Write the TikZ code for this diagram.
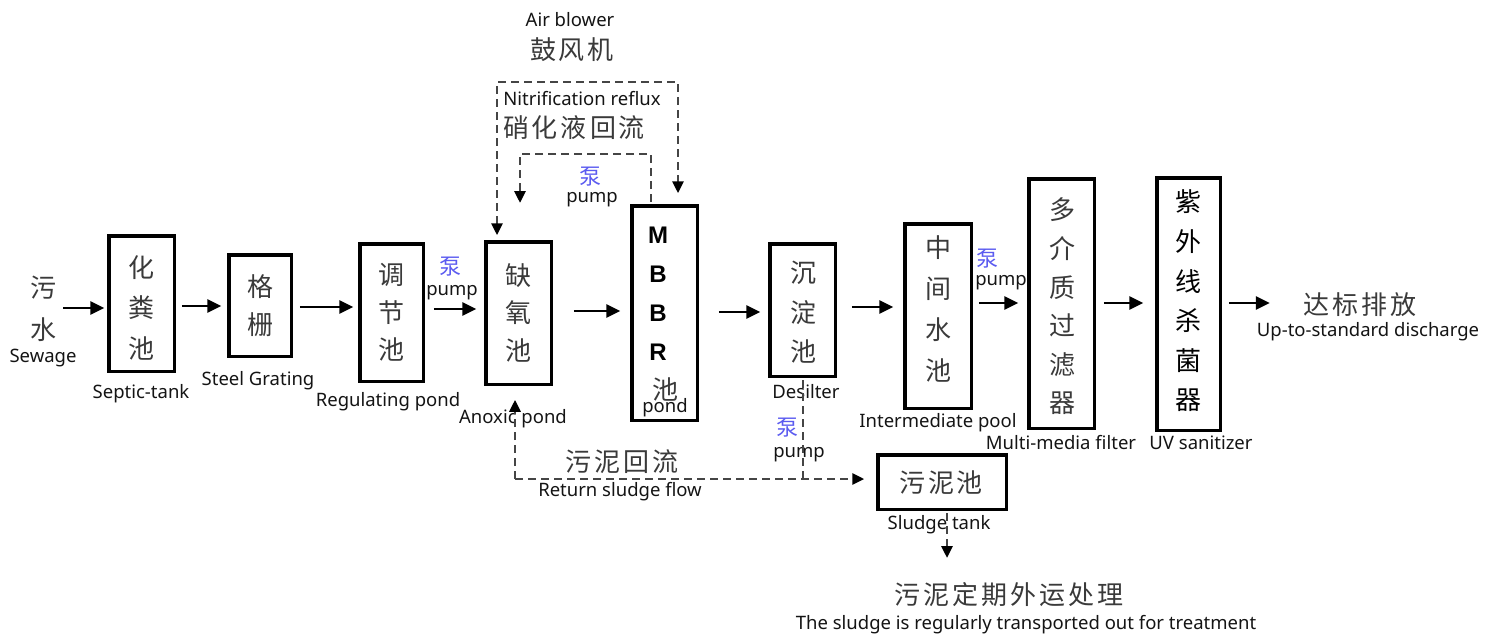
\documentclass[tikz,border=0pt]{standalone}
\usepackage{fontspec}
\setmainfont{Noto Sans}
\newfontfamily\cjk{Noto Sans CJK SC}
\newfontfamily\mbbrfont{Liberation Sans}
\usetikzlibrary{arrows.meta}
\definecolor{cjkgray}{HTML}{3A3A3A}
\definecolor{pumpblue}{HTML}{5B5BF0}
\definecolor{dashgray}{HTML}{454545}
\definecolor{entext}{HTML}{141414}
\newcommand{\zsp}{\hspace{3pt}}
\begin{document}
\begin{tikzpicture}[x=1pt,y=-1pt,
 box/.style={draw=black,line width=3.5pt,inner sep=0pt},
 vtext/.style={align=center,text=cjkgray,inner sep=0pt,font=\cjk\fontsize{26}{#1}\selectfont},
 en/.style={font=\fontsize{18.5}{20}\selectfont,text=entext,inner sep=1pt},
 zh/.style={font=\cjk\fontsize{26}{28}\selectfont,text=cjkgray,inner sep=1pt},
 pumpzh/.style={font=\cjk\fontsize{22}{24}\selectfont,text=pumpblue,inner sep=1pt},
 flow/.style={line width=2.9pt,-{Triangle[length=14pt,width=13pt]}},
 dline/.style={line width=2.9pt,draw=dashgray,dash pattern=on 8pt off 5pt},
 dtip/.style={-{Triangle[length=12pt,width=11pt,color=black]}},
]
\useasboundingbox (0,0) rectangle (1487,637);

% boxes
\node[box,minimum width=65.5pt,minimum height=135.5pt] (b1) at (141.5,303.5) {};
\node[box,minimum width=62.5pt,minimum height=101.5pt] (b2) at (260,305.5) {};
\node[box,minimum width=63.5pt,minimum height=137.5pt] (b3) at (391.5,312.5) {};
\node[box,minimum width=65.5pt,minimum height=142.5pt] (b4) at (518.5,313) {};
\node[box,minimum width=65.5pt,minimum height=214.5pt] (b5) at (664.5,313) {};
\node[box,minimum width=65.5pt,minimum height=132.5pt] (b6) at (802.5,310) {};
\node[box,minimum width=66.5pt,minimum height=184.5pt] (b7) at (938,316) {};
\node[box,minimum width=65.5pt,minimum height=249.5pt] (b8) at (1061.5,303.5) {};
\node[box,minimum width=63.5pt,minimum height=252.5pt] (b9) at (1188.5,304) {};
\node[box,minimum width=128.5pt,minimum height=54.5pt] (b10) at (942,482) {};

% box texts
\node[vtext=42] (n0) at (43,309) {污\\水};
\node[vtext=40.5] (t1) at (141.5,307.5) {化\\粪\\池};
\node[vtext=38] (t2) at (260,306) {格\\栅};
\node[vtext=37.5] (t3) at (391.5,312.5) {调\\节\\池};
\node[vtext=37.5] (t4) at (518,312.5) {缺\\氧\\池};
\node[font=\mbbrfont\bfseries\fontsize{24}{39}\selectfont,align=center,inner sep=0pt,text=black] (t5) at (658,293.5) {M\\B\\B\\R};
\node[zh] (t5b) at (665,389) {池};
\node[en] (lmp) at (665,408) {pond};
\node[vtext=39.5] (t6) at (803,312.5) {沉\\淀\\池};
\node[vtext=41] (t7) at (938,308.5) {中\\间\\水\\池};
\node[vtext=38.6] (t8) at (1062,306.5) {多\\介\\质\\过\\滤\\器};
\node[vtext=39.6,text=black] (t9) at (1188,301) {紫\\外\\线\\杀\\菌\\器};
\node[zh] (t10) at (941,483) {污\zsp{}泥\zsp{}池};
\node[zh] (out) at (1360,305) {达\zsp{}标\zsp{}排\zsp{}放};

% labels
\node[en] (lsew) at (43,358) {Sewage};
\node[en] (lsep) at (141,394) {Septic-tank};
\node[en] (lste) at (258,381) {Steel Grating};
\node[en] (lreg) at (388,402) {Regulating pond};
\node[pumpzh] (p1) at (450,267) {泵};
\node[en] (pl1) at (452,293) {pump};
\node[en] (lano) at (513,419) {Anoxic pond};
\node[en] (ldes) at (806,392) {Desilter};
\node[pumpzh] (p2) at (787,428) {泵};
\node[en] (pl2) at (799,455) {pump};
\node[en] (lint) at (938,423) {Intermediate pool};
\node[pumpzh] (p3) at (987,259) {泵};
\node[en] (pl3) at (1001,283) {pump};
\node[en] (lmul) at (1061,443) {Multi-media filter};
\node[en] (luv) at (1201,443) {UV sanitizer};
\node[en] (ldis) at (1368,332) {Up-to-standard discharge};
\node[en] (lslt) at (939,525) {Sludge tank};
\node[zh] (zret) at (622,462) {污\zsp{}泥\zsp{}回\zsp{}流};
\node[en] (lret) at (620,492) {Return sludge flow};
\node[zh] (zsl) at (1009,595) {污\zsp{}泥\zsp{}定\zsp{}期\zsp{}外\zsp{}运\zsp{}处\zsp{}理};
\node[en] (lsl) at (1026,625) {The sludge is regularly transported out for treatment};
\node[en] (lair) at (570,20) {Air blower};
\node[zh] (zair) at (572,50) {鼓\zsp{}风\zsp{}机};
\node[en] (lnit) at (582,99) {Nitrification reflux};
\node[zh] (znit) at (574,128) {硝\zsp{}化\zsp{}液\zsp{}回\zsp{}流};
\node[pumpzh] (p4) at (590,177) {泵};
\node[en] (pl4) at (592,200) {pump};

% main flow
\draw[flow,shorten <=7pt,shorten >=2.75pt] (n0.east |- 0,308) -- (b1.west |- 0,308);
\draw[flow,shorten <=5.75pt,shorten >=5.75pt] (b1.east |- 0,306) -- (b2.west |- 0,306);
\draw[flow,shorten <=6.75pt,shorten >=4.75pt] (b2.east |- 0,307) -- (b3.west |- 0,307);
\draw[flow,shorten <=8.75pt,shorten >=7.75pt] (b3.east |- 0,309) -- (b4.west |- 0,309);
\draw[flow,shorten <=20.75pt,shorten >=9.75pt] (b4.east |- 0,311) -- (b5.west |- 0,311);
\draw[flow,shorten <=19.75pt,shorten >=7.75pt] (b5.east |- 0,312) -- (b6.west |- 0,312);
\draw[flow,shorten <=14.75pt,shorten >=9.75pt] (b6.east |- 0,307) -- (b7.west |- 0,307);
\draw[flow,shorten <=5.75pt,shorten >=8.75pt] (b7.east |- 0,303) -- (b8.west |- 0,303);
\draw[flow,shorten <=7.75pt,shorten >=11.75pt] (b8.east |- 0,303) -- (b9.west |- 0,303);
\draw[flow,shorten <=6.75pt,shorten >=32.5pt] (b9.east |- 0,303) -- (out.west |- 0,303);

% air blower loop
\coordinate (aL) at (497,82);
\coordinate (aR) at (678,82);
\draw[dline,{Triangle[length=12pt,width=11pt,color=black]}-{Triangle[length=12pt,width=11pt,color=black]},shorten <=4.75pt,shorten >=10.75pt]
  (b4.north -| aL) -- (aL) -- (aR) -- (b5.north -| aR);

% nitrification reflux
\coordinate (rR) at (651,154);
\coordinate (rL) at (520,154);
\coordinate (rE) at (520,203);
\draw[dline,dtip,shorten <=2pt] (b5.north -| rR) -- (rR) -- (rL) -- (rE);

% sludge return
\coordinate (sJ) at (803,479);
\coordinate (sL) at (515,479);
\draw[dline,shorten <=2pt] (b6.south -| sJ) -- (sJ);
\draw[dline,dtip,shorten >=11.75pt] (sL) -- (b10.west |- sL);
\draw[dline,dtip,shorten >=13.75pt] (sL) -- (b4.south -| sL);

% sludge out
\coordinate (dE) at (947,558);
\draw[dline,dtip,shorten <=2pt] (b10.south -| dE) -- (dE);
\end{tikzpicture}
\end{document}
